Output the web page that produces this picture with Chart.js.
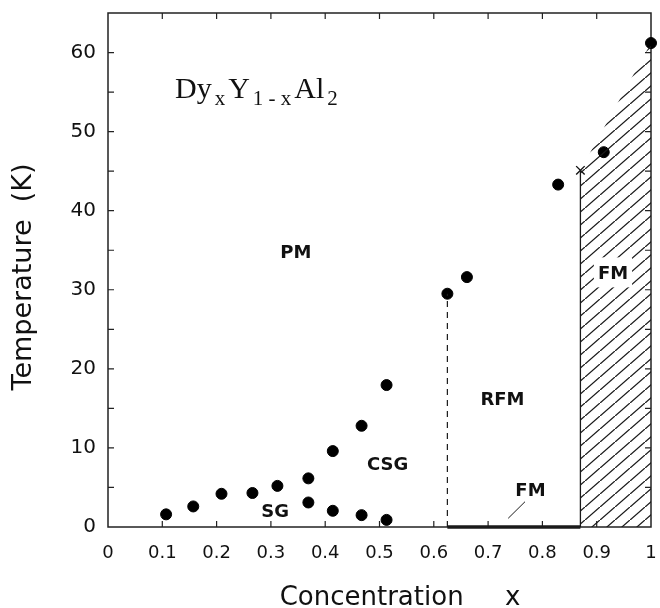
<!DOCTYPE html>
<html>
<head>
<meta charset="utf-8">
<script src="https://cdn.jsdelivr.net/npm/chart.js@4.4.1/dist/chart.umd.min.js"></script>
<style>
  html, body { margin: 0; padding: 0; background: #fff; }
</style>
</head>
<body>
<canvas id="phaseChart" width="660" height="608"></canvas>
<script>
// spin-glass / cluster-glass freezing temperatures (upper row of dots)
const sgX = [0.107, 0.157, 0.209, 0.266, 0.312, 0.369, 0.414, 0.467, 0.513];
const sgT = [1.6, 2.6, 4.2, 4.3, 5.2, 6.15, 9.6, 12.8, 17.95];
// lower row of dots (re-entrant transition)
const lowX = [0.369, 0.414, 0.467, 0.513];
const lowT = [3.1, 2.05, 1.5, 0.9];
// ordering temperatures
const orderX = [0.625, 0.661, 0.829, 0.913, 1.0];
const orderT = [29.5, 31.6, 43.3, 47.4, 61.2];
// the single cross
const crossX = [0.870];
const crossT = [45.1];
// phase boundaries
const rfmEdgeX = 0.625;
const fmEdgeX = 0.870;
const leaderX = [0.737, 0.768];
const leaderT = [1.1, 3.2];

const xTickLabels = ["0", "0.1", "0.2", "0.3", "0.4", "0.5", "0.6", "0.7", "0.8", "0.9", "1"];
const yTickLabels = ["0", "10", "20", "30", "40", "50", "60"];

const regionNames = ["PM", "CSG", "SG", "RFM", "FM"];
const regionX = [0.346, 0.515, 0.308, 0.7265, 0.778];
const regionT = [34.8, 8.05, 2.1, 16.3, 4.7];
const hatchName = "FM";
const hatchNameX = 0.930;
const hatchNameT = 32.2;

const toPoints = (xs, ys) => xs.map((x, i) => ({ x: x, y: ys[i] }));

// diagonal hatching tile
function makeHatch() {
  const w = 15, h = 13;
  const c = document.createElement("canvas");
  c.width = w;
  c.height = h;
  const g = c.getContext("2d");
  g.strokeStyle = "#1a1a1a";
  g.lineWidth = 1.3;
  g.beginPath();
  g.moveTo(-w, 2 * h);
  g.lineTo(2 * w, -h);
  g.stroke();
  return g.createPattern(c, "repeat");
}

const sans = "\"DejaVu Sans\", \"Liberation Sans\", sans-serif";

const framePlugin = {
  id: "frame",
  beforeDatasetsDraw(chart) {
    const { ctx, chartArea: a, scales } = chart;
    ctx.save();
    ctx.strokeStyle = "#222";
    ctx.lineWidth = 1.5;
    ctx.strokeRect(a.left, a.top, a.right - a.left, a.bottom - a.top);
    ctx.lineWidth = 1.2;
    ctx.beginPath();
    scales.x.ticks.forEach(t => {
      if (t.value <= 0 || t.value >= 1) return;
      const px = scales.x.getPixelForValue(t.value);
      ctx.moveTo(px, a.bottom);
      ctx.lineTo(px, a.bottom - 6);
      ctx.moveTo(px, a.top);
      ctx.lineTo(px, a.top + 6);
    });
    scales.y.ticks.forEach(t => {
      if (t.value <= 0 || t.value >= 65) return;
      const py = scales.y.getPixelForValue(t.value);
      ctx.moveTo(a.left, py);
      ctx.lineTo(a.left + 6, py);
      ctx.moveTo(a.right, py);
      ctx.lineTo(a.right - 6, py);
    });
    ctx.stroke();
    ctx.restore();
  }
};

const notesPlugin = {
  id: "notes",
  afterDatasetsDraw(chart) {
    const { ctx, scales } = chart;
    const sx = v => scales.x.getPixelForValue(v);
    const sy = v => scales.y.getPixelForValue(v);
    ctx.save();
    ctx.fillStyle = "#111";

    // region names
    ctx.font = "bold 18px " + sans;
    ctx.textAlign = "center";
    ctx.textBaseline = "alphabetic";
    regionNames.forEach((name, i) => {
      ctx.fillText(name, sx(regionX[i]), sy(regionT[i]) + 6.5);
    });

    // label inside the hatched area, on a white box
    const hx = sx(hatchNameX), hy = sy(hatchNameT);
    const hw = ctx.measureText(hatchName).width + 8;
    ctx.fillStyle = "#fff";
    ctx.fillRect(hx - hw / 2, hy - 15, hw, 30);
    ctx.fillStyle = "#111";
    ctx.fillText(hatchName, hx, hy + 6.5);

    // compound formula
    const parts = [["Dy", 0], ["x", 1], ["Y", 0], ["1 - x", 1], ["Al", 0], ["2", 1]];
    let px = sx(0.1234);
    const base = sy(54.2);
    ctx.textAlign = "left";
    parts.forEach(([txt, sub]) => {
      ctx.font = (sub ? "21px" : "30px") + " \"Liberation Serif\", \"Times New Roman\", serif";
      ctx.fillText(txt, px, base + (sub ? 7 : 0));
      px += ctx.measureText(txt).width + 3;
    });

    // axis titles
    ctx.textAlign = "center";
    ctx.font = "26px " + sans;
    ctx.fillText("Concentration     x", 400, 605);
    ctx.save();
    ctx.translate(31, 277);
    ctx.rotate(-Math.PI / 2);
    ctx.font = "27px " + sans;
    ctx.fillText("Temperature  (K)", 0, 0);
    ctx.restore();

    ctx.restore();
  }
};

const dot = {
  pointRadius: 5.5,
  pointBackgroundColor: "#000",
  pointBorderColor: "#000",
  pointBorderWidth: 1,
  showLine: false,
  clip: false
};

const plain = {
  showLine: true,
  pointRadius: 0,
  borderColor: "#1a1a1a",
  fill: false
};

new Chart(document.getElementById("phaseChart"), {
  type: "scatter",
  data: {
    datasets: [
      {
        ...plain,
        data: toPoints([fmEdgeX, orderX[4]], [crossT[0], orderT[4]]),
        borderWidth: 0,
        fill: "origin",
        backgroundColor: makeHatch()
      },
      { ...plain, data: toPoints([fmEdgeX, fmEdgeX], [0, crossT[0]]), borderWidth: 1.3 },
      { ...plain, data: toPoints([rfmEdgeX, rfmEdgeX], [0, orderT[0]]), borderWidth: 1.2, borderDash: [6, 5] },
      { ...plain, data: toPoints([rfmEdgeX, fmEdgeX], [0, 0]), borderWidth: 3.5, clip: false },
      { ...plain, data: toPoints(leaderX, leaderT), borderWidth: 1 },
      { ...dot, data: toPoints(sgX, sgT) },
      { ...dot, data: toPoints(lowX, lowT) },
      { ...dot, data: toPoints(orderX, orderT) },
      {
        data: toPoints(crossX, crossT),
        pointStyle: "crossRot",
        pointRadius: 6,
        pointBorderColor: "#111",
        pointBorderWidth: 1.4,
        showLine: false,
        clip: false
      }
    ]
  },
  options: {
    responsive: false,
    animation: false,
    devicePixelRatio: 1,
    layout: { padding: { top: 13, right: 9, left: 0, bottom: 0 } },
    plugins: {
      legend: { display: false },
      tooltip: { enabled: false }
    },
    scales: {
      x: {
        type: "linear",
        min: 0,
        max: 1,
        afterFit: s => {
          s.height = 81;
          s.paddingLeft = 0;
          s.paddingRight = 0;
        },
        grid: { display: false, drawTicks: false },
        border: { display: false },
        ticks: {
          stepSize: 0.1,
          autoSkip: false,
          maxRotation: 0,
          padding: 16,
          color: "#111",
          font: { family: sans, size: 18 },
          callback: (v, i) => xTickLabels[i]
        }
      },
      y: {
        min: 0,
        max: 65,
        afterFit: s => {
          s.width = 108;
          s.paddingTop = 0;
          s.paddingBottom = 0;
        },
        grid: { display: false, drawTicks: false },
        border: { display: false },
        ticks: {
          stepSize: 5,
          autoSkip: false,
          padding: 12,
          color: "#111",
          font: { family: sans, size: 20 },
          callback: v => (v % 10 === 0 ? yTickLabels[v / 10] : "")
        }
      }
    }
  },
  plugins: [framePlugin, notesPlugin]
});
</script>
</body>
</html>
